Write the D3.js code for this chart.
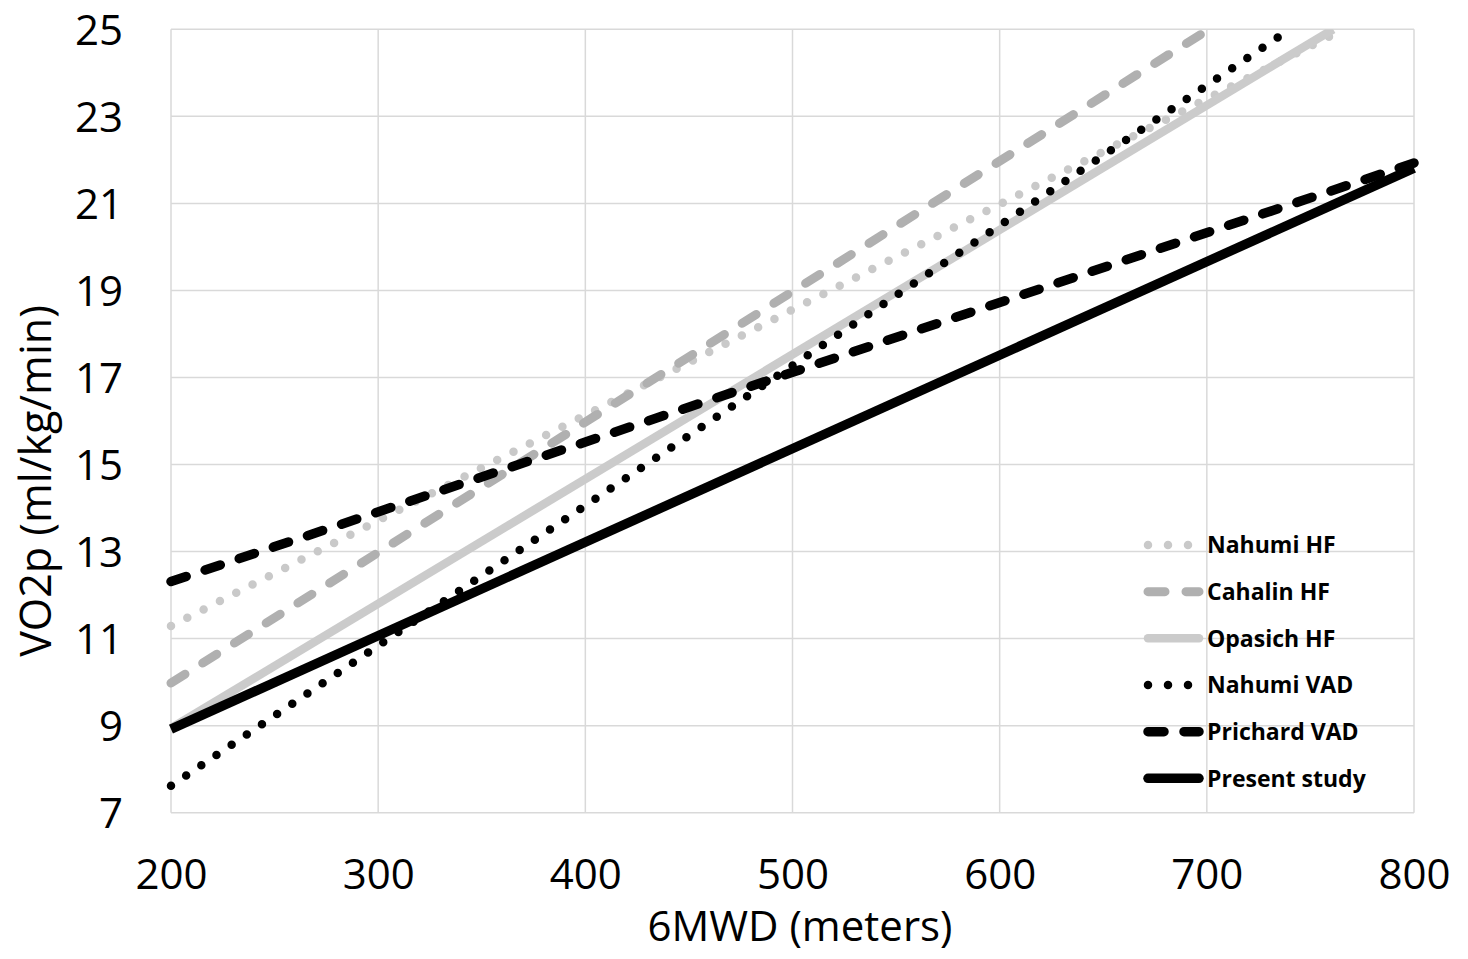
<!DOCTYPE html>
<html>
<head>
<meta charset="utf-8">
<script src="https://cdn.jsdelivr.net/npm/d3@7"></script>
<style>
  html, body { margin: 0; padding: 0; background: #ffffff; }
  svg { display: block; }
</style>
</head>
<body>
<svg id="chart" width="1468" height="959"></svg>
<script>
// ---------- data ----------
const seriesNames = ["Nahumi HF", "Cahalin HF", "Opasich HF", "Nahumi VAD", "Prichard VAD", "Present study"];
// each series: 6MWD (m) at start and end, VO2p at start and end (lines clipped at the axis maximum)
const nahumiHF_x   = [200, 766];  const nahumiHF_y   = [11.29, 25.0];
const cahalinHF_x  = [200, 701];  const cahalinHF_y  = [9.98, 25.0];
const opasichHF_x  = [200, 761];  const opasichHF_y  = [8.94, 25.0];
const nahumiVAD_x  = [200, 740];  const nahumiVAD_y  = [7.62, 25.0];
const prichardVAD_x= [200, 800];  const prichardVAD_y= [12.31, 21.93];
const present_x    = [200, 800];  const present_y    = [8.92, 21.81];

const xTicks = [200, 300, 400, 500, 600, 700, 800];
const yTicks = [7, 9, 11, 13, 15, 17, 19, 21, 23, 25];
const xTitle = "6MWD (meters)";
const yTitle = "VO2p (ml/kg/min)";

// ---------- styles ----------
const styles = [
  { color: "#c9c9c9", width: 8.5, dash: "0,18.3", cap: "round" },
  { color: "#b0b0b0", width: 9, dash: "16.5,21", cap: "round" },
  { color: "#cbcbcb", width: 8.5, dash: null, cap: "butt" },
  { color: "#000000", width: 8.5, dash: "0,18.3", cap: "round" },
  { color: "#000000", width: 9.5, dash: "16,20", cap: "round" },
  { color: "#000000", width: 9.5, dash: null, cap: "butt" }
];
const legendDash = ["0,20", "17,21", null, "0,20", "16,20", null];

const seriesX = [nahumiHF_x, cahalinHF_x, opasichHF_x, nahumiVAD_x, prichardVAD_x, present_x];
const seriesY = [nahumiHF_y, cahalinHF_y, opasichHF_y, nahumiVAD_y, prichardVAD_y, present_y];

// ---------- layout ----------
const mLeft = 171, mTop = 29.3, mRight = 1414, mBottom = 812.7;
const W = mRight - mLeft, H = mBottom - mTop;
const font = "'Open Sans', 'Noto Sans', sans-serif";

const svg = d3.select("#chart");
const x = d3.scaleLinear().domain([200, 800]).range([0, W]);
const y = d3.scaleLinear().domain([7, 25]).range([H, 0]);

const g = svg.append("g").attr("transform", `translate(${mLeft},${mTop})`);

// gridlines
const gridColor = "#d9d9d9";
g.append("g").selectAll("line").data(yTicks).join("line")
  .attr("x1", 0).attr("x2", W)
  .attr("y1", d => y(d)).attr("y2", d => y(d))
  .attr("stroke", gridColor).attr("stroke-width", 1.5);
g.append("g").selectAll("line").data(xTicks).join("line")
  .attr("y1", 0).attr("y2", H)
  .attr("x1", d => x(d)).attr("x2", d => x(d))
  .attr("stroke", gridColor).attr("stroke-width", 1.5);

// axes (labels only)
const xAxis = g.append("g").attr("transform", `translate(0,${H})`)
  .call(d3.axisBottom(x).tickValues(xTicks).tickSize(0).tickPadding(0).tickFormat(d3.format("d")));
xAxis.select(".domain").remove();
xAxis.selectAll("text").attr("y", 889 - mBottom).attr("dy", 0)
  .style("font-family", font).style("font-size", "42px").attr("fill", "#000");

const yAxis = g.append("g")
  .call(d3.axisLeft(y).tickValues(yTicks).tickSize(0).tickPadding(0).tickFormat(d3.format("d")));
yAxis.select(".domain").remove();
yAxis.selectAll("text").attr("x", 123 - mLeft).attr("dy", "0.36em")
  .style("font-family", font).style("font-size", "42px").attr("fill", "#000");

// clip
svg.append("defs").append("clipPath").attr("id", "plotclip")
  .append("rect").attr("x", -20).attr("y", 0).attr("width", W + 40).attr("height", H + 20);

const lineGen = d3.line().x(d => x(d[0])).y(d => y(d[1]));
const plot = g.append("g").attr("clip-path", "url(#plotclip)");
seriesNames.forEach((name, i) => {
  const pts = seriesX[i].map((xv, j) => [xv, seriesY[i][j]]);
  const s = styles[i];
  plot.append("path").datum(pts)
    .attr("d", lineGen)
    .attr("fill", "none")
    .attr("stroke", s.color)
    .attr("stroke-width", s.width)
    .attr("stroke-linecap", s.cap)
    .attr("stroke-dasharray", s.dash);
});

// legend
const legendRowY = d3.scalePoint().domain(seriesNames).range([545, 778.3]);
const leg = svg.append("g");
seriesNames.forEach((name, i) => {
  const s = styles[i];
  const yy = legendRowY(name);
  leg.append("line")
    .attr("x1", 1148).attr("x2", 1199).attr("y1", yy).attr("y2", yy)
    .attr("stroke", s.color).attr("stroke-width", s.width)
    .attr("stroke-linecap", "round")
    .attr("stroke-dasharray", legendDash[i]);
  leg.append("text")
    .attr("x", 1207).attr("y", yy).attr("dy", "0.36em")
    .style("font-family", font).style("font-size", "23px").style("font-weight", "bold")
    .attr("fill", "#000").text(name);
});

// axis titles
svg.append("text").attr("x", 800).attr("y", 941).attr("text-anchor", "middle")
  .style("font-family", font).style("font-size", "42px").attr("fill", "#000").text(xTitle);
svg.append("text").attr("transform", "translate(51,481) rotate(-90)").attr("text-anchor", "middle")
  .style("font-family", font).style("font-size", "43px").attr("fill", "#000").text(yTitle);
</script>
</body>
</html>
